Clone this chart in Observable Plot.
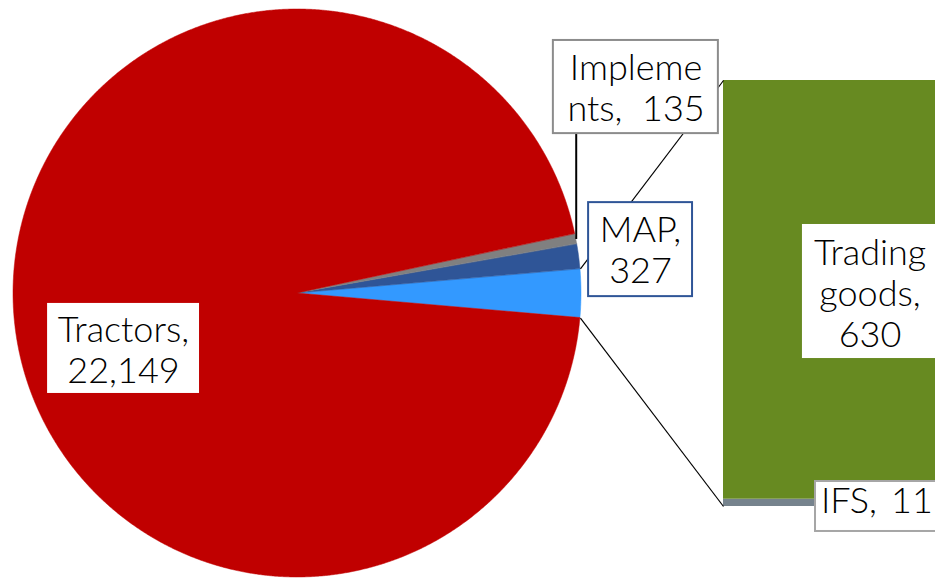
<!DOCTYPE html>
<html>
<head>
<meta charset="utf-8">
<script src="https://cdn.jsdelivr.net/npm/d3@7"></script>
<script src="https://cdn.jsdelivr.net/npm/@observablehq/plot@0.6"></script>
<style>
  html, body { margin: 0; padding: 0; background: #fff; }
  #chart svg { display: block; }
</style>
</head>
<body>
<div id="chart"></div>
<script>
// Main pie segments
const mainNames = ["Tractors", "Implements", "MAP"];
const mainValues = [22149, 135, 327];

// Split-out segment, broken down in the stacked bar (bottom to top)
const barNames = ["IFS", "Trading goods"];
const barValues = [11, 630];

// Colours
const colors = {
  "Tractors": "#C00000",
  "Implements": "#808080",
  "MAP": "#2F5597",
  "Other": "#3399FF",
  "Trading goods": "#678A21",
  "IFS": "#76838D"
};

// Layout in pie-radius units: the pie is the unit circle at (0, 0)
const xDomain = [-1.0458, 2.2465];
const yDomain = [-1.0106, 1.0317];
const barX = [1.5, 2.5];
const barY = [-0.75, 0.75];

// Label boxes (box extent, text anchor, border colour, separator, line-break positions)
const labelLayout = {
  "Tractors":      {x1: -0.880, x2: -0.345, y1: -0.352, y2: -0.035, tx: -0.6127, ty: -0.197, stroke: "none",    anchor: "middle", gap: "\u00a0 ", breaks: [9]},
  "Implements":    {x1: 0.901,  x2: 1.482,  y1: 0.563,  y2: 0.891,  tx: 1.192,   ty: 0.726,  stroke: "#8C8C8C", anchor: "middle", gap: "\u00a0 ", breaks: [7]},
  "MAP":           {x1: 1.025,  x2: 1.391,  y1: -0.011, y2: 0.320,  tx: 1.2077,  ty: 0.155,  stroke: "#2F5597", anchor: "middle", gap: "\u00a0 ", breaks: [4]},
  "Trading goods": {x1: 1.778,  x2: 2.300,  y1: -0.229, y2: 0.243,  tx: 2.016,   ty: 0.002,  stroke: "none",    anchor: "middle", gap: "\u00a0 ", breaks: [7, 14]},
  "IFS":           {x1: 1.824,  x2: 2.300,  y1: -0.838, y2: -0.662, tx: 1.843,   ty: -0.727, stroke: "#A6A6A6", anchor: "start",  gap: "\u00a0\u2009", breaks: []}
};

const fmt = d3.format(",");
const otherValue = d3.sum(barValues);
const total = d3.sum(mainValues) + otherValue;
const angle = v => v / total * 2 * Math.PI;

// Wedges run counter-clockwise, with the split-out wedge centred on 3 o'clock
const wedges = [{name: "Other", value: otherValue},
  ...mainNames.map((name, i) => ({name, value: mainValues[i]})).reverse()];
let a = -angle(otherValue) / 2;
for (const w of wedges) {
  w.a0 = a;
  a += angle(w.value);
  w.a1 = a;
  w.mid = (w.a0 + w.a1) / 2;
}
const wedgeOf = name => wedges.find(w => w.name === name);

// Outline of each wedge along its arc
const arcRows = wedges.flatMap(w => {
  const n = Math.max(2, Math.ceil((w.a1 - w.a0) / (Math.PI / 720)));
  return d3.range(n + 1).map(k => {
    const t = w.a0 + (w.a1 - w.a0) * k / n;
    return {name: w.name, x2: Math.cos(t), y2: Math.sin(t)};
  });
});

// Stacked bar
const barScale = d3.scaleLinear([0, otherValue], barY);
const ends = Array.from(d3.cumsum(barValues));
const barRows = barNames.map((name, i) => ({
  name, y1: barScale(ends[i] - barValues[i]), y2: barScale(ends[i])
}));

// Connectors from the split-out wedge to the bar corners
const other = wedgeOf("Other");
const connectors = [
  {x1: Math.cos(other.a1), y1: Math.sin(other.a1), x2: barX[0], y2: barScale(otherValue)},
  {x1: Math.cos(other.a0), y1: Math.sin(other.a0), x2: barX[0], y2: barScale(0)}
];

// Leader line for the Implements label
const impl = wedgeOf("Implements");
const leaders = [{x1: Math.cos(impl.mid), y1: Math.sin(impl.mid),
                  x2: Math.cos(impl.mid), y2: labelLayout["Implements"].y1}];

// Data labels: "Name,  value", wrapped at the given positions
function wrap(s, breaks) {
  const parts = [];
  let p = 0;
  for (const b of breaks) { parts.push(s.slice(p, b)); p = b; }
  parts.push(s.slice(p));
  return parts.map(t => t.trim()).join("\n");
}
const allNames = [...mainNames, ...barNames];
const allValues = [...mainValues, ...barValues];
const labels = allNames.map((name, i) => {
  const L = labelLayout[name];
  return {name, ...L, text: wrap(`${name},${L.gap}${fmt(allValues[i])}`, L.breaks)};
});

const textStyle = {x: "tx", y: "ty", text: "text", lineAnchor: "middle", lineHeight: 1.14,
  fontFamily: "Lato", fontSize: 36, fontWeight: 300, fill: "#000"};

const chart = Plot.plot({
  width: 935,
  height: 580,
  margin: 0,
  x: {domain: xDomain, axis: null},
  y: {domain: yDomain, axis: null},
  color: {type: "identity"},
  style: {background: "#fff"},
  marks: [
    Plot.area(arcRows, {x1: 0, y1: 0, x2: "x2", y2: "y2", z: "name",
      fill: d => colors[d.name], stroke: d => colors[d.name], strokeWidth: 0.5, curve: "linear"}),
    Plot.rect(barRows, {x1: barX[0], x2: barX[1], y1: "y1", y2: "y2", fill: d => colors[d.name]}),
    Plot.link(connectors, {x1: "x1", y1: "y1", x2: "x2", y2: "y2", stroke: "#000", strokeWidth: 1.2}),
    Plot.link(leaders, {x1: "x1", y1: "y1", x2: "x2", y2: "y2", stroke: "#000", strokeWidth: 2}),
    Plot.rect(labels, {x1: "x1", x2: "x2", y1: "y1", y2: "y2", fill: "#fff",
      stroke: "stroke", strokeWidth: 2}),
    Plot.text(labels.filter(d => d.anchor === "middle"), {...textStyle, textAnchor: "middle"}),
    Plot.text(labels.filter(d => d.anchor === "start"), {...textStyle, textAnchor: "start"})
  ]
});
document.getElementById("chart").append(chart);
</script>
</body>
</html>
